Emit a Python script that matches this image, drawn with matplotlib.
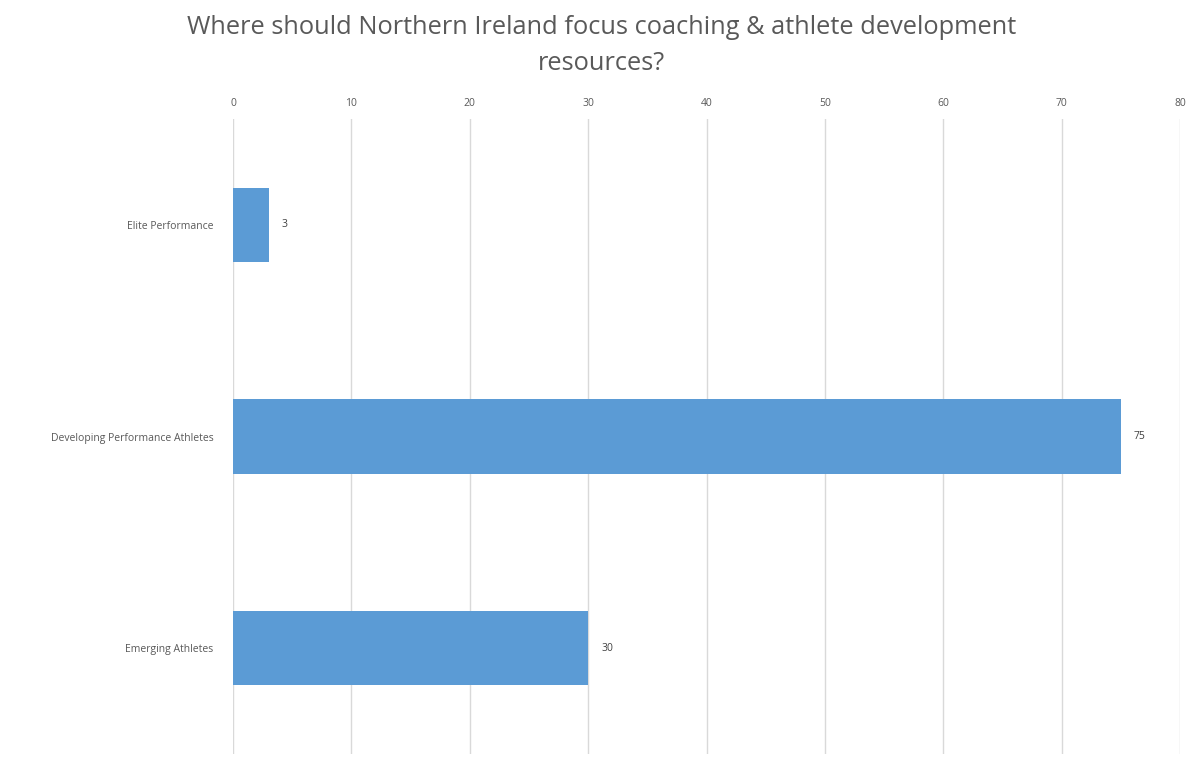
import matplotlib
matplotlib.use("Agg")
import matplotlib.pyplot as plt

categories = ["Elite Performance", "Developing Performance Athletes", "Emerging Athletes"]
values = [3, 75, 30]
xticks = [0, 10, 20, 30, 40, 50, 60, 70, 80]

plt.rcParams['font.family'] = ['Open Sans', 'DejaVu Sans']

fig = plt.figure(figsize=(12.04, 7.71), dpi=100)
ax = fig.add_axes([233/1204, 1 - 754/771, (1180 - 233)/1204, (754 - 119)/771])

y = list(range(len(categories)))
bars = ax.barh(y, values, height=0.35, color="#5b9bd5", zorder=3)
for yi, v in zip(y, values):
    ax.text(v + 1.1, yi, str(v), va="center", ha="left", fontsize=7.5, color="#404040")

ax.set_xlim(0, 80)
ax.set_ylim(2.5, -0.5)
ax.set_xticks(xticks)
ax.set_yticks(y)
ax.set_yticklabels(categories)
ax.xaxis.tick_top()
ax.tick_params(axis="both", length=0, labelsize=7.5, labelcolor="#595959")
ax.tick_params(axis="x", pad=7)
ax.tick_params(axis="y", pad=14)
ax.grid(axis="x", color="#d9d9d9", linewidth=1, zorder=0)
for s in ax.spines.values():
    s.set_visible(False)

fig.suptitle("Where should Northern Ireland focus coaching & athlete development\nresources?",
             y=0.98, fontsize=18.3, color="#595959", linespacing=1.55)

fig.savefig("out.png", dpi=100)
